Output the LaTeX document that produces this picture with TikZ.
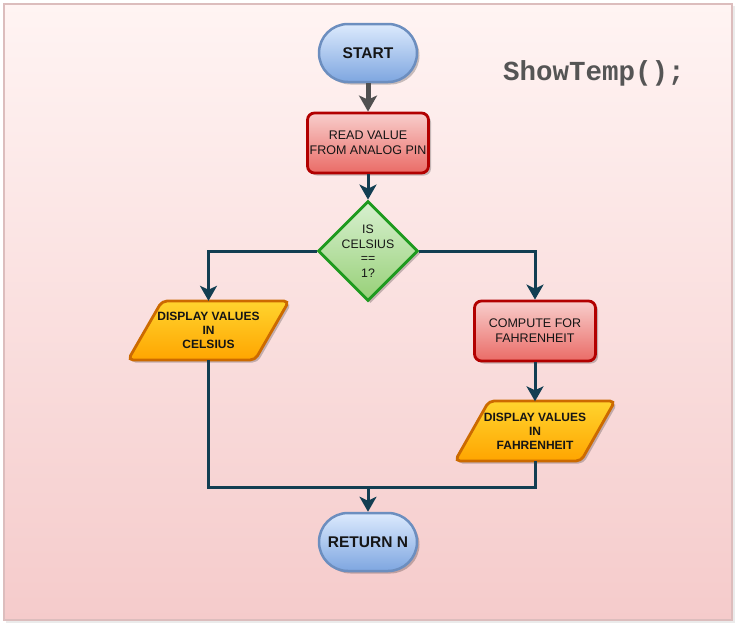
\documentclass[tikz,border=0pt]{standalone}
\usepackage{fontspec}
\setmainfont{Liberation Sans}
\newfontfamily\codefont{Liberation Mono}
\usetikzlibrary{arrows.meta,shadows,shapes.geometric,calc}
\definecolor{bgTop}{HTML}{FFF4F3}
\definecolor{bgBot}{HTML}{F5CBCB}
\definecolor{bgLine}{HTML}{DCBDBD}
\definecolor{bluT}{HTML}{DCEAFD}
\definecolor{bluB}{HTML}{7EA6E0}
\definecolor{bluL}{HTML}{6C8EBF}
\definecolor{redT}{HTML}{F8CECC}
\definecolor{redB}{HTML}{EA6B66}
\definecolor{redL}{HTML}{B20000}
\definecolor{grnT}{HTML}{D8F0D0}
\definecolor{grnB}{HTML}{97D077}
\definecolor{grnL}{HTML}{1E9A1E}
\definecolor{orgT}{HTML}{FFD42E}
\definecolor{orgB}{HTML}{FFA500}
\definecolor{orgL}{HTML}{CC6A00}
\definecolor{conn}{HTML}{123E52}
\definecolor{startarrow}{HTML}{505050}
\definecolor{codegray}{HTML}{555555}
\definecolor{txt}{HTML}{151515}
\tikzset{
  shd/.style={drop shadow={shadow xshift=2.5pt, shadow yshift=-2.5pt, opacity=0.22, fill=black}},
  term/.style={shd, draw=bluL, line width=2.5pt, top color=bluT, bottom color=bluB,
    rounded corners=29pt, minimum width=98pt, minimum height=58pt, inner sep=0pt,
    font=\bfseries\fontsize{15.5}{18}\selectfont, text=txt},
  procbox/.style={shd, draw=redL, line width=2.8pt, top color=redT, bottom color=redB,
    rounded corners=7pt, minimum width=121pt, minimum height=60pt, inner sep=0pt, align=center,
    font=\fontsize{12.5}{15}\selectfont, text=txt},
  decbox/.style={shd, draw=grnL, line width=2.8pt, top color=grnT, bottom color=grnB,
    diamond, aspect=1, minimum width=100pt, minimum height=100pt, inner sep=0pt},
  dtext/.style={align=center, font=\fontsize{12.3}{14.5}\selectfont, text=txt, inner sep=0pt},
  iofill/.style={shd, draw=orgL, line width=2.8pt, top color=orgT, bottom color=orgB,
    rounded corners=5pt},
  iotext/.style={align=center, font=\bfseries\fontsize{12}{14}\selectfont, text=txt,
    minimum height=59pt, minimum width=127pt, inner sep=0pt},
  link/.style={draw=conn, line width=3pt},
  arr/.style={link, -{Stealth[length=15pt, width=17pt, inset=4pt]}},
}
\begin{document}
\begin{tikzpicture}[x=1pt, y=-1pt]
\useasboundingbox (0,0) rectangle (736,624);
% background
\fill[black, opacity=0.08] (6,6) rectangle (735,623);
\path[top color=bgTop, bottom color=bgBot, draw=bgLine, line width=2.5pt] (4,4) rectangle (732,620);

% title
\node[font=\codefont\bfseries\fontsize{27.5}{30}\selectfont, text=codegray] (title) at (594,73) {ShowTemp();};

% parallelograms (shapes)
\path[iofill] (162,301) -- (289,301) -- (255,360) -- (128,360) -- cycle;
\path[iofill] (489,401) -- (615,401) -- (581,461) -- (455,461) -- cycle;

% nodes
\node[term] (start) at (368,53) {START};
\node[procbox] (read) at (368,143) {READ VALUE\\FROM ANALOG PIN};
\node[decbox] (dec) at (368,251) {};
\node[dtext] (dectxt) at (368,251) {IS\\CELSIUS\\==\\1?};
\node[iotext] (cel) at (208.5,330.5) {DISPLAY VALUES\\IN\\CELSIUS};
\node[procbox] (comp) at (535,331) {COMPUTE FOR\\FAHRENHEIT};
\node[iotext] (fah) at (535,431) {DISPLAY VALUES\\IN\\FAHRENHEIT};
\node[term] (ret) at (368,542) {RETURN N};
\coordinate (join) at (368,487);

% connectors
\draw[draw=startarrow, line width=5pt, -{Stealth[length=16pt, width=18pt, inset=4pt]}] (start) -- (read);
\draw[arr] (read) -- (dec);
\draw[arr] (dec.west) -| (cel.north);
\draw[arr] (dec.east) -| (comp.north);
\draw[arr] (comp) -- (fah);
\draw[link] (cel.south) |- (join) -| (fah.south);
\draw[arr] (join) -- (ret);
\end{tikzpicture}
\end{document}
